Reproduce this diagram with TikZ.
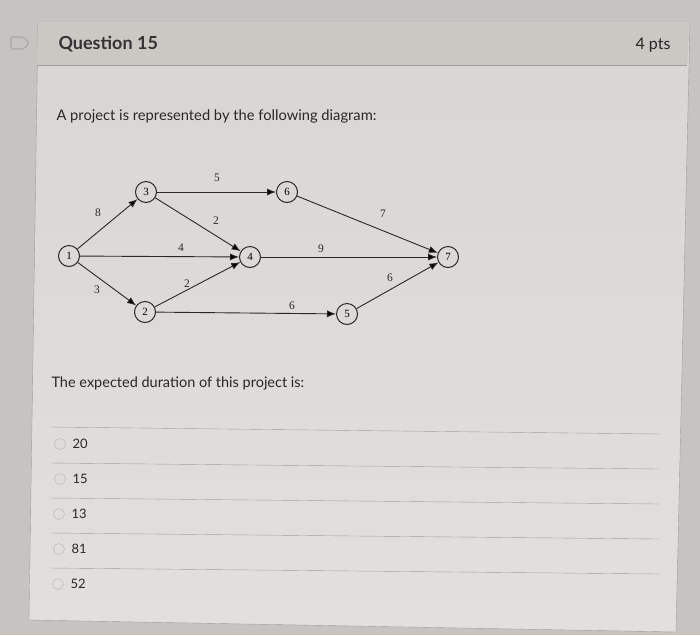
\documentclass[tikz,border=0pt]{standalone}
\usepackage{fontspec}
\setmainfont{Lato}
\newfontfamily\netfont{Liberation Serif}
\usetikzlibrary{arrows.meta}
\definecolor{pagebg}{RGB}{198,195,192}
\definecolor{cardbg}{RGB}{216,213,210}
\definecolor{cardlow}{RGB}{226,224,222}
\definecolor{headbg}{RGB}{203,200,196}
\definecolor{rulegray}{RGB}{160,158,155}
\definecolor{inkgray}{RGB}{40,40,40}
\tikzset{
  event/.style={shape=circle, draw=inkgray, line width=1pt, minimum size=21pt, inner sep=0pt, font=\netfont\fontsize{11}{11}\selectfont},
  act/.style={-{Latex[length=9pt,width=7pt]}, line width=0.9pt, draw=inkgray},
  dur/.style={font=\netfont\fontsize{11.5}{11.5}\selectfont, text=inkgray},
  radio/.style={shape=circle, draw=rulegray!80, minimum size=11pt, inner sep=0pt},
  choice/.style={anchor=west, font=\fontsize{13}{13}\selectfont, text=inkgray}
}
\begin{document}
\begin{tikzpicture}[x=1pt, y=-1pt]
\useasboundingbox (0,0) rectangle (700,635);
\fill[pagebg] (0,0) rectangle (700,635);
% card
\shade[top color=cardbg, bottom color=cardlow, draw=rulegray] (38,22) -- (690,22) -- (676,632) -- (29,620) -- cycle;
\fill[headbg] (38.5,22.5) -- (689.5,22.5) -- (687.3,65) -- (36.5,65) -- cycle;
\draw[rulegray] (36.5,65) -- (687.3,65);
\draw[rulegray!90, line width=1.2pt, rounded corners=2pt] (11,37) -- (24,37) -- (29,43) -- (24,49) -- (11,49) -- cycle;
\node[anchor=west, font=\fontsize{18}{18}\selectfont\bfseries, text=black!80] (title) at (55,44) {Question 15};
\node[anchor=east, font=\fontsize{16}{16}\selectfont, text=black!85] (pts) at (674,45) {4 pts};
\node[anchor=west, font=\fontsize{14.7}{14.7}\selectfont, text=inkgray] (intro) at (53,116) {A project is represented by the following diagram:};

% network
\node[event] (1) at (69,256) {1};
\node[event] (3) at (146,192) {3};
\node[event] (2) at (145,312) {2};
\node[event] (4) at (250,257) {4};
\node[event] (6) at (287,192) {6};
\node[event] (5) at (347,314) {5};
\node[event] (7) at (448,257) {7};
\path [act] (1) edge (3);
\path [act] (1) edge (2);
\path [act] (1) edge (4);
\path [act] (3) edge (6);
\path [act] (3) edge (4);
\path [act] (2) edge (4);
\path [act] (2) edge (5);
\path [act] (6) edge (7);
\path [act] (4) edge (7);
\path [act] (5) edge (7);
\node[dur] (d13) at (98,213) {8};
\node[dur] (d12) at (97,290) {3};
\node[dur] (d14) at (181,248) {4};
\node[dur] (d36) at (217,178) {5};
\node[dur] (d34) at (216,221) {2};
\node[dur] (d24) at (187,284) {2};
\node[dur] (d25) at (292,306) {6};
\node[dur] (d67) at (383,214) {7};
\node[dur] (d47) at (321,249) {9};
\node[dur] (d57) at (390,278) {6};

\node[anchor=west, font=\fontsize{14.5}{14.5}\selectfont, text=inkgray] (ask) at (48,383) {The expected duration of this project is:};

% answers
\draw[rulegray] (50,427) -- (660,434);
\draw[rulegray] (50,463) -- (660,469);
\draw[rulegray] (50,498) -- (660,504);
\draw[rulegray] (50,533) -- (660,539);
\draw[rulegray] (50,568) -- (660,574);
\node[radio] (r1) at (60,444) {};
\node[radio] (r2) at (60,479) {};
\node[radio] (r3) at (59,514) {};
\node[radio] (r4) at (59,549) {};
\node[radio] (r5) at (58,584) {};
\node[choice] (c1) at (69,444) {20};
\node[choice] (c2) at (69,479) {15};
\node[choice] (c3) at (68,514) {13};
\node[choice] (c4) at (68,549) {81};
\node[choice] (c5) at (67,584) {52};
\end{tikzpicture}
\end{document}
